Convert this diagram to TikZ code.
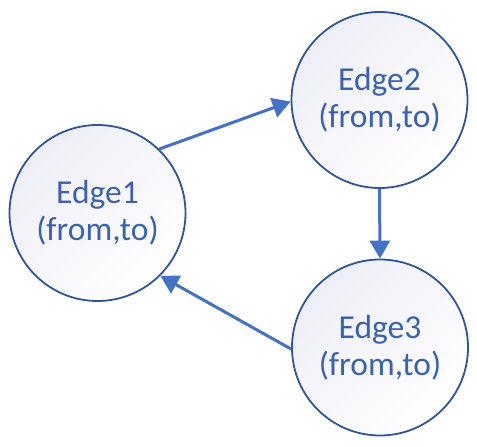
\documentclass[tikz,border=0pt]{standalone}
\usepackage{fontspec}
\setmainfont{Carlito}
\usetikzlibrary{arrows.meta}
\definecolor{edgeLine}{RGB}{47,85,151}
\definecolor{edgeText}{RGB}{58,98,176}
\definecolor{edgeArrow}{RGB}{68,114,196}
\definecolor{edgeFill}{RGB}{238,238,247}

\begin{document}
\begin{tikzpicture}[x=1pt,y=-1pt,>={Triangle[length=18pt,width=20pt]},
  edgenode/.style={circle,draw=edgeLine,line width=1.8pt,minimum size=176pt,inner sep=0pt,
    top color=edgeFill,bottom color=white,shading angle=45,
    text=edgeText,align=center,font=\fontsize{33.5}{37}\selectfont},
  link/.style={->,edgeArrow,line width=3pt}]
\useasboundingbox (0,0) rectangle (477,447);
% the three edges
\node[edgenode] (e1) at (97.5,213) {Edge1\\(from,to)};
\node[edgenode] (e2) at (379.5,100) {Edge2\\(from,to)};
\node[edgenode] (e3) at (380,347.5) {Edge3\\(from,to)};
% cycle
\draw[link] (e1.46) -- (e2.181);
\draw[link] (e2.south) -- (e3.north);
\draw[link] (e3.181) -- (e1.-45);
\end{tikzpicture}
\end{document}
